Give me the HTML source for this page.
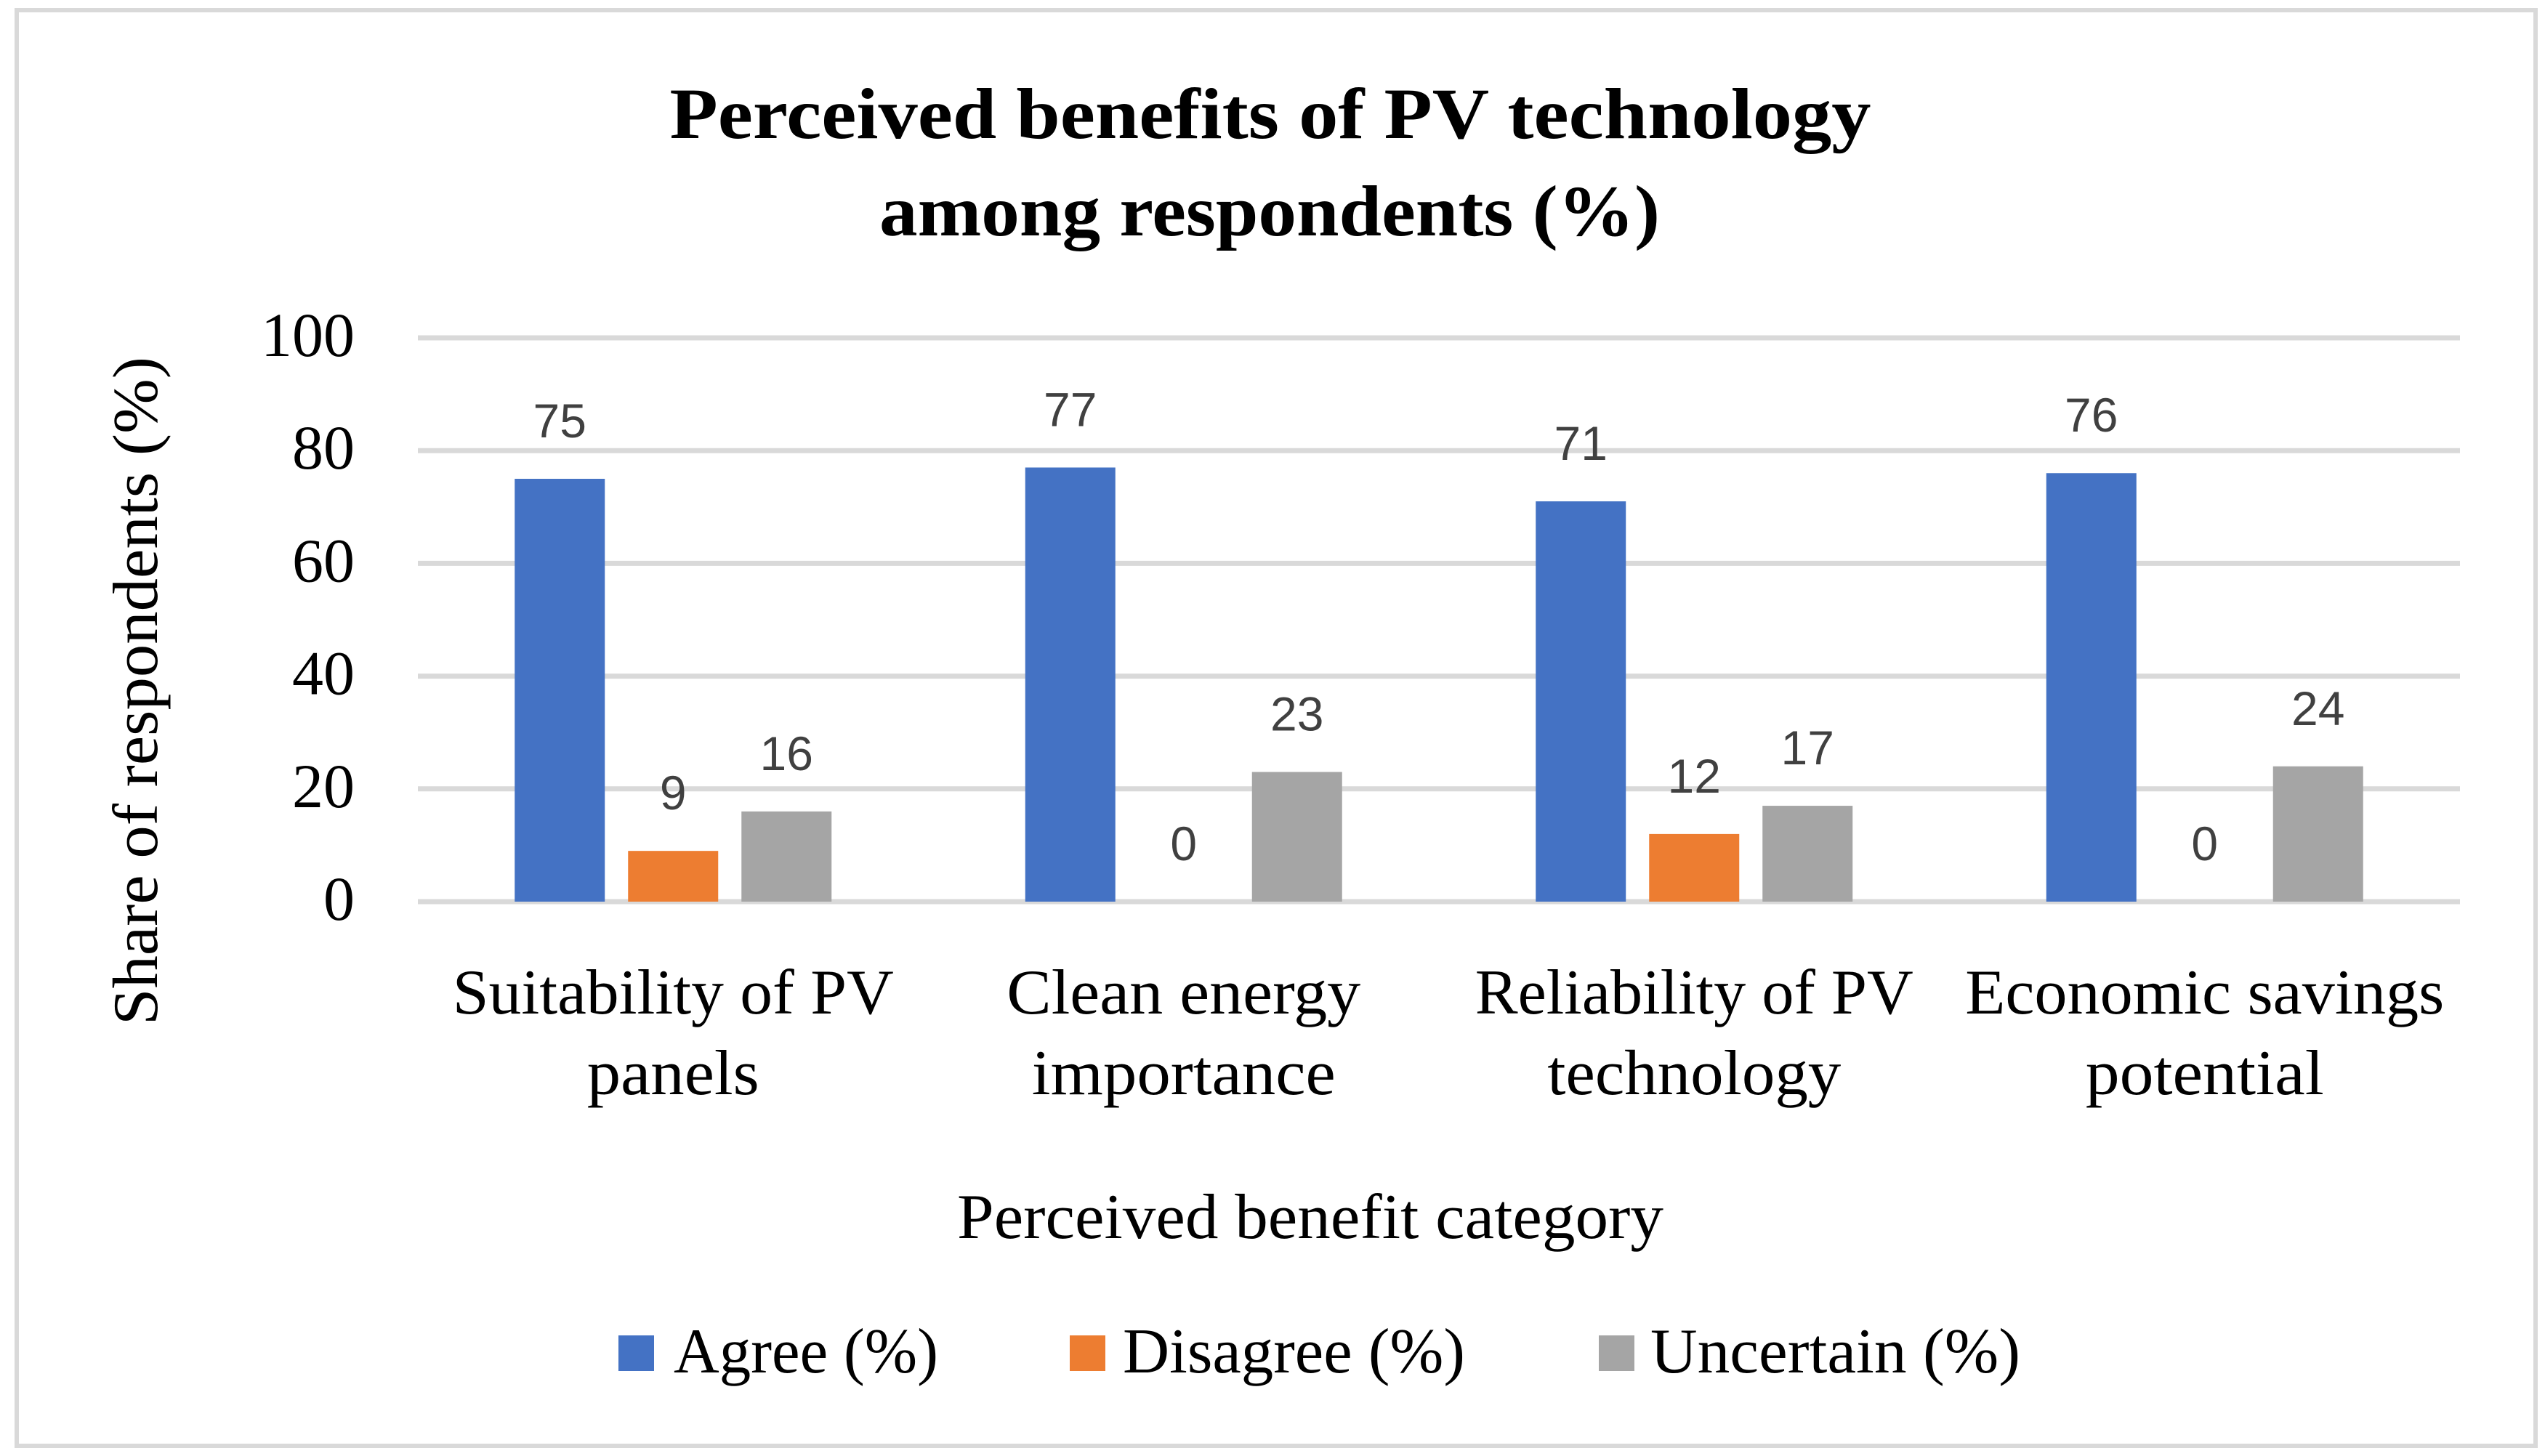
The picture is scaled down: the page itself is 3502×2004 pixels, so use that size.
<!DOCTYPE html>
<html><head><meta charset="utf-8"><style>
html,body{margin:0;padding:0;background:#fff;}
svg{display:block;}
</style></head><body>
<svg id="chart" width="3502" height="2004" viewBox="0 0 3502 2004" xmlns="http://www.w3.org/2000/svg">
<rect x="23" y="14" width="3466" height="1976" fill="#fff" stroke="#d9d9d9" stroke-width="6"/>
<g font-family="'Liberation Serif', serif" font-weight="bold" font-size="100" text-anchor="middle" fill="#000">
<text x="1748" y="190" textLength="1653" lengthAdjust="spacingAndGlyphs">Perceived benefits of PV technology</text>
<text x="1747" y="324" textLength="1074" lengthAdjust="spacingAndGlyphs">among respondents (%)</text>
</g>
<g id="grid"></g>
<g id="yticks"></g>
<g id="bars"></g>
<g id="labels"></g>
<g id="cats"></g>
<text transform="translate(216,951) rotate(-90)" text-anchor="middle" font-family="'Liberation Serif', serif" font-size="88" textLength="920" lengthAdjust="spacingAndGlyphs">Share of respondents (%)</text>
<text x="1803" y="1704" text-anchor="middle" font-family="'Liberation Serif', serif" font-size="88" textLength="972" lengthAdjust="spacingAndGlyphs">Perceived benefit category</text>
<g font-family="'Liberation Serif', serif" font-size="88">
<rect x="851" y="1838" width="49" height="49" fill="#4472c4"/>
<text x="927" y="1889" textLength="364" lengthAdjust="spacingAndGlyphs">Agree (%)</text>
<rect x="1472" y="1838" width="49" height="49" fill="#ed7d31"/>
<text x="1545" y="1889" textLength="471" lengthAdjust="spacingAndGlyphs">Disagree (%)</text>
<rect x="2200" y="1838" width="49" height="49" fill="#a5a5a5"/>
<text x="2271" y="1889" textLength="509" lengthAdjust="spacingAndGlyphs">Uncertain (%)</text>
</g>
</svg>
<script>
const categories = [["Suitability of PV","panels"],["Clean energy","importance"],["Reliability of PV","technology"],["Economic savings","potential"]];
const catWidths = [[607,237],[487,418],[603,404],[659,328]];
const agree = [75, 77, 71, 76];
const disagree = [9, 0, 12, 0];
const uncertain = [16, 23, 17, 24];
const yTicks = [0, 20, 40, 60, 80, 100];

const NS = "http://www.w3.org/2000/svg";
const X0 = 575, X1 = 3385, Y0 = 1241, Y100 = 465;
const yScale = v => Y0 - (v / 100) * (Y0 - Y100);
const band = (X1 - X0) / categories.length;
const xCenter = i => X0 + band * (i + 0.5);
const BW = 124, STEP = 156;
function mk(tag, attrs, parent) {
  const e = document.createElementNS(NS, tag);
  for (const k in attrs) e.setAttribute(k, attrs[k]);
  parent.appendChild(e);
  return e;
}
const grid = document.getElementById('grid');
const yt = document.getElementById('yticks');
yTicks.forEach(t => {
  const l = mk('line', {x1: X0, x2: X1, y1: yScale(t), y2: yScale(t), stroke: '#d9d9d9', 'stroke-width': 7}, grid);
  
  
  const tx = mk('text', {x: 488, y: yScale(t) + 25, 'text-anchor': 'end', 'font-family': "'Liberation Serif', serif", 'font-size': 86}, yt);
  tx.textContent = t;
  
  
});
const series = [["agree", agree, "#4472c4"], ["disagree", disagree, "#ed7d31"], ["uncertain", uncertain, "#a5a5a5"]];
const barsG = document.getElementById('bars');
const labG = document.getElementById('labels');
categories.forEach((c, i) => {
  series.forEach((s, j) => {
    const v = s[1][i];
    const cx = xCenter(i) + (j - 1) * STEP;
    const r = mk('rect', {x: cx - BW / 2, y: yScale(v), width: BW, height: Y0 - yScale(v), fill: s[2]}, barsG);
    
    
    const t = mk('text', {x: cx, y: yScale(v) - 57, 'text-anchor': 'middle', 'font-family': "'Liberation Sans', sans-serif", 'font-size': 66, fill: '#404040'}, labG);
    t.textContent = v;
    
    
  });
  const cg = document.getElementById('cats');
  c.forEach((line, k) => {
    const t = mk('text', {x: xCenter(i), y: k === 0 ? 1395 : 1506, 'text-anchor': 'middle', 'font-family': "'Liberation Serif', serif", 'font-size': 88, textLength: catWidths[i][k], lengthAdjust: 'spacingAndGlyphs'}, cg);
    t.textContent = line;
    
    
  });
});
</script>
</body></html>
